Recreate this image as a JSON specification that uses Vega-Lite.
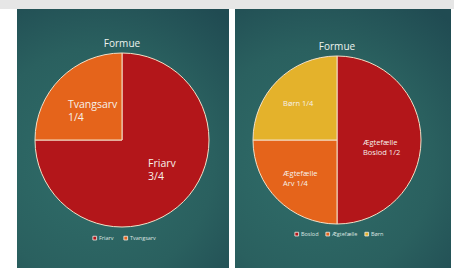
{
  "$schema": "https://vega.github.io/schema/vega-lite/v6.json",
  "padding": 0,
  "background": "#ffffff",
  "spacing": 0,
  "bounds": "flush",
  "config": {"view": {"stroke": null}, "font": "Open Sans"},
  "resolve": {"scale": {"color": "independent"}, "legend": {"color": "independent"}},
  "vconcat": [
    {
      "width": 454,
      "height": 9,
      "data": {"values": []},
      "mark": "point",
      "view": {"fill": "#e6e6e6", "stroke": null}
    },
    {
      "spacing": 6,
      "bounds": "flush",
      "resolve": {"scale": {"color": "independent"}, "legend": {"color": "independent"}},
      "hconcat": [
        {
          "width": 11,
          "height": 259,
          "data": {"values": []},
          "mark": "point",
          "view": {"stroke": null}
        },
        {
          "width": 212,
          "height": 259,
          "view": {"stroke": null, "fill": {"gradient": "radial", "x1": 0.4, "y1": 0.6, "r1": 0, "x2": 0.4, "y2": 0.6, "r2": 0.75, "stops": [{"offset": 0, "color": "#306e6a"}, {"offset": 0.6, "color": "#2a605f"}, {"offset": 1, "color": "#204b52"}]}},
          "title": {"text": "Formue", "color": "#eef3ef", "fontSize": 10, "font": "Open Sans", "fontWeight": "normal", "offset": -50, "baseline": "bottom", "anchor": "middle", "dx": -1},
          "data": {"values": [
            {"andel": "Friarv", "v": 3, "rank": 1, "label": "Friarv\n3/4"},
            {"andel": "Tvangsarv", "v": 1, "rank": 2, "label": "Tvangsarv\n1/4"}
          ]},
          "layer": [
            {
              "mark": {"type": "arc", "outerRadius": 87, "stroke": "#f3dfc6", "strokeWidth": 1, "xOffset": -1, "yOffset": 1.5},
              "encoding": {
                "theta": {"field": "v", "type": "quantitative", "stack": true},
                "order": {"field": "rank", "type": "quantitative"},
                "color": {
                  "field": "andel", "type": "nominal",
                  "scale": {"domain": ["Friarv", "Tvangsarv"], "range": ["#b3161a", "#e5641b"]},
                  "legend": {"title": null, "orient": "none", "legendX": 75, "legendY": 226, "direction": "horizontal", "symbolType": "square", "symbolSize": 14, "symbolStrokeColor": "#f4efe8", "symbolStrokeWidth": 0.8, "labelFontSize": 5.5, "labelColor": "#dde5e1", "labelFont": "Open Sans", "columnPadding": 8, "labelOffset": 1.5}
                }
              }
            },
            {
              "mark": {"type": "text", "radius": 49, "align": "left", "baseline": "middle", "dx": -20.4, "dy": 1.6, "fontSize": 10.5, "lineHeight": 13, "lineBreak": "\n", "color": "#f6f1ea"},
              "encoding": {
                "theta": {"field": "v", "type": "quantitative", "stack": true},
                "order": {"field": "rank", "type": "quantitative"},
                "text": {"condition": {"test": "datum.andel === 'Tvangsarv'", "field": "label", "type": "nominal"}, "value": ""}
              }
            },
            {
              "mark": {"type": "text", "radius": 33, "align": "left", "baseline": "middle", "dx": 1.7, "dy": 1.7, "fontSize": 10.5, "lineHeight": 13.5, "lineBreak": "\n", "color": "#f6f1ea"},
              "encoding": {
                "theta": {"field": "v", "type": "quantitative", "stack": true},
                "order": {"field": "rank", "type": "quantitative"},
                "text": {"condition": {"test": "datum.andel === 'Friarv'", "field": "label", "type": "nominal"}, "value": ""}
              }
            }
          ]
        },
        {
          "width": 216,
          "height": 259,
          "view": {"stroke": null, "fill": {"gradient": "radial", "x1": 0.4, "y1": 0.6, "r1": 0, "x2": 0.4, "y2": 0.6, "r2": 0.75, "stops": [{"offset": 0, "color": "#306e6a"}, {"offset": 0.6, "color": "#2a605f"}, {"offset": 1, "color": "#204b52"}]}},
          "title": {"text": "Formue", "color": "#eef3ef", "fontSize": 10, "font": "Open Sans", "fontWeight": "normal", "offset": -53, "baseline": "bottom", "anchor": "middle", "dx": -6},
          "data": {"values": [
            {"andel": "Boslod", "v": 2, "rank": 1, "label": "Ægtefælle\nBoslod 1/2"},
            {"andel": "Ægtefælle", "v": 1, "rank": 2, "label": "Ægtefælle\nArv 1/4"},
            {"andel": "Børn", "v": 1, "rank": 3, "label": "Børn 1/4"}
          ]},
          "layer": [
            {
              "mark": {"type": "arc", "outerRadius": 84, "stroke": "#f3dfc6", "strokeWidth": 1, "xOffset": -6, "yOffset": 1.5},
              "encoding": {
                "theta": {"field": "v", "type": "quantitative", "stack": true},
                "order": {"field": "rank", "type": "quantitative"},
                "color": {
                  "field": "andel", "type": "nominal",
                  "scale": {"domain": ["Boslod", "Ægtefælle", "Børn"], "range": ["#b3161a", "#e5641b", "#e4b22b"]},
                  "legend": {"title": null, "orient": "none", "legendX": 59, "legendY": 222, "direction": "horizontal", "symbolType": "square", "symbolSize": 14, "symbolStrokeColor": "#f4efe8", "symbolStrokeWidth": 0.8, "labelFontSize": 5.5, "labelColor": "#dde5e1", "labelFont": "Open Sans", "columnPadding": 5, "labelOffset": 1.5}
                }
              }
            },
            {
              "mark": {"type": "text", "radius": 50, "align": "left", "baseline": "middle", "dx": -24.6, "dy": 0.5, "fontSize": 7.5, "lineHeight": 9.5, "lineBreak": "\n", "color": "#f6f1ea"},
              "encoding": {
                "theta": {"field": "v", "type": "quantitative", "stack": true},
                "order": {"field": "rank", "type": "quantitative"},
                "text": {"condition": {"test": "datum.andel !== 'Boslod'", "field": "label", "type": "nominal"}, "value": ""}
              }
            },
            {
              "mark": {"type": "text", "radius": 30, "align": "left", "baseline": "middle", "dx": -10, "dy": 4, "fontSize": 7.5, "lineHeight": 10.5, "lineBreak": "\n", "color": "#f6f1ea"},
              "encoding": {
                "theta": {"field": "v", "type": "quantitative", "stack": true},
                "order": {"field": "rank", "type": "quantitative"},
                "text": {"condition": {"test": "datum.andel === 'Boslod'", "field": "label", "type": "nominal"}, "value": ""}
              }
            }
          ]
        }
      ]
    }
  ]
}
